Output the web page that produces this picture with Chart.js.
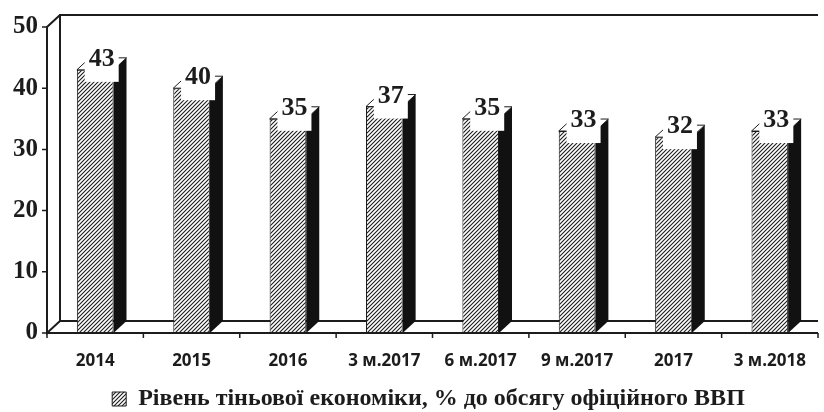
<!DOCTYPE html>
<html>
<head>
<meta charset="utf-8">
<script src="https://cdn.jsdelivr.net/npm/chart.js@4"></script>
<style>
  html, body { margin: 0; padding: 0; background: #fff; }
  #wrap { width: 824px; height: 412px; }
</style>
</head>
<body>
<div id="wrap"><canvas id="shadowChart"></canvas></div>
<script>
const categories = ["2014", "2015", "2016", "3 м.2017", "6 м.2017", "9 м.2017", "2017", "3 м.2018"];
const shadowShare = [43, 40, 35, 37, 35, 33, 32, 33];
const yTicks = [0, 10, 20, 30, 40, 50];
const seriesLabel = "Рівень тіньової економіки, % до обсягу офіційного ВВП";

const DEPTH_X = 13;
const DEPTH_Y = -12;
const INK = "#1c1c1c";

const ctx = document.getElementById("shadowChart").getContext("2d");

// diagonal hatch like the printed original
function makeHatch() {
  const c = document.createElement("canvas");
  c.width = 4;
  c.height = 4;
  const g = c.getContext("2d");
  g.fillStyle = "#fff";
  g.fillRect(0, 0, 4, 4);
  g.strokeStyle = INK;
  g.lineWidth = 1.1;
  g.beginPath();
  g.moveTo(0, 4); g.lineTo(4, 0);
  g.moveTo(-1, 1); g.lineTo(1, -1);
  g.moveTo(3, 5); g.lineTo(5, 3);
  g.stroke();
  return ctx.createPattern(c, "repeat");
}
const hatch = makeHatch();

const box3d = {
  id: "box3d",
  afterLayout(chart) {
    // legend in the original sits a little right of centre
    chart.legend.left += 34;
  },
  beforeDatasetsDraw(chart) {
    const { ctx, chartArea: a, scales: { x, y } } = chart;
    const top = y.getPixelForValue(yTicks[yTicks.length - 1]);
    const bot = y.getPixelForValue(yTicks[0]);
    ctx.save();
    ctx.strokeStyle = INK;
    ctx.lineWidth = 2;
    ctx.beginPath();
    // back wall + floor back edge
    ctx.moveTo(a.right, top + DEPTH_Y);
    ctx.lineTo(a.left + DEPTH_X, top + DEPTH_Y);
    ctx.lineTo(a.left + DEPTH_X, bot + DEPTH_Y);
    ctx.lineTo(a.right, bot + DEPTH_Y);
    // left wall
    ctx.moveTo(a.left + DEPTH_X, top + DEPTH_Y);
    ctx.lineTo(a.left, top);
    ctx.lineTo(a.left, bot);
    ctx.lineTo(a.left + DEPTH_X, bot + DEPTH_Y);
    ctx.stroke();

    ctx.lineWidth = 1.5;
    ctx.beginPath();
    yTicks.forEach(v => {
      const py = y.getPixelForValue(v);
      ctx.moveTo(a.left - 5, py);
      ctx.lineTo(a.left, py);
    });
    const step = x.getPixelForValue(1) - x.getPixelForValue(0);
    for (let i = 0; i <= categories.length; i++) {
      const px = x.getPixelForValue(i) - step / 2;
      ctx.moveTo(px, bot);
      ctx.lineTo(px, bot + 5);
    }
    ctx.stroke();
    ctx.restore();
  },
  afterDatasetsDraw(chart) {
    const { ctx, chartArea: a, scales: { y } } = chart;
    const values = chart.data.datasets[0].data;
    const meta = chart.getDatasetMeta(0);
    ctx.save();
    meta.data.forEach((bar, i) => {
      const { x: cx, y: top, base, width } = bar.getProps(["x", "y", "base", "width"], true);
      const l = cx - width / 2;
      const r = cx + width / 2;

      // dark side face
      ctx.fillStyle = "#111";
      ctx.beginPath();
      ctx.moveTo(r, top);
      ctx.lineTo(r + DEPTH_X, top + DEPTH_Y);
      ctx.lineTo(r + DEPTH_X, base + DEPTH_Y);
      ctx.lineTo(r, base);
      ctx.closePath();
      ctx.fill();

      // top face
      ctx.fillStyle = "#fff";
      ctx.strokeStyle = INK;
      ctx.lineWidth = 1;
      ctx.beginPath();
      ctx.moveTo(l, top);
      ctx.lineTo(r, top);
      ctx.lineTo(r + DEPTH_X, top + DEPTH_Y);
      ctx.lineTo(l + DEPTH_X, top + DEPTH_Y);
      ctx.closePath();
      ctx.fill();
      ctx.stroke();

      // value label on a white patch
      const lx = cx + DEPTH_X / 2;
      const txt = String(values[i]);
      ctx.font = "bold 26px 'Liberation Serif'";
      const tw = ctx.measureText(txt).width;
      ctx.fillStyle = "#fff";
      ctx.fillRect(lx - tw / 2 - 4, top - 27, tw + 8, 39);
      ctx.fillStyle = INK;
      ctx.textAlign = "center";
      ctx.textBaseline = "alphabetic";
      ctx.fillText(txt, lx, top - 4);
    });

    // front floor edge on top of the bars
    const bot = y.getPixelForValue(yTicks[0]);
    ctx.strokeStyle = INK;
    ctx.lineWidth = 2;
    ctx.beginPath();
    ctx.moveTo(a.left, bot);
    ctx.lineTo(a.right, bot);
    ctx.stroke();
    ctx.restore();
  },
};

new Chart(ctx, {
  type: "bar",
  data: {
    labels: categories,
    datasets: [
      {
        label: seriesLabel,
        data: shadowShare,
        backgroundColor: hatch,
        borderColor: INK,
        borderWidth: 1,
        categoryPercentage: 1,
        barPercentage: 0.38,
      },
    ],
  },
  options: {
    responsive: true,
    maintainAspectRatio: false,
    animation: false,
    events: [],
    layout: {
      padding: { top: 27, right: 1, left: 0, bottom: -9 },
    },
    plugins: {
      tooltip: { enabled: false },
      legend: {
        position: "bottom",
        labels: {
          boxWidth: 14,
          boxHeight: 14,
          padding: 6,
          color: INK,
          font: { family: "'Liberation Serif'", size: 24, weight: "bold" },
        },
      },
    },
    scales: {
      x: {
        grid: { display: false, drawTicks: false },
        border: { display: false },
        ticks: {
          color: INK,
          padding: 18,
          maxRotation: 0,
          autoSkip: false,
          font: { family: "'Open Sans'", size: 17, weight: "bold" },
        },
        afterFit(scale) { scale.height = 48; },
      },
      y: {
        min: 0,
        max: 50,
        grid: { display: false, drawTicks: false },
        border: { display: false },
        ticks: {
          stepSize: 10,
          color: INK,
          padding: 9,
          font: { family: "'Liberation Serif'", size: 25, weight: "bold" },
        },
        afterFit(scale) { scale.width = 47; },
      },
    },
  },
  plugins: [box3d],
});
</script>
</body>
</html>
